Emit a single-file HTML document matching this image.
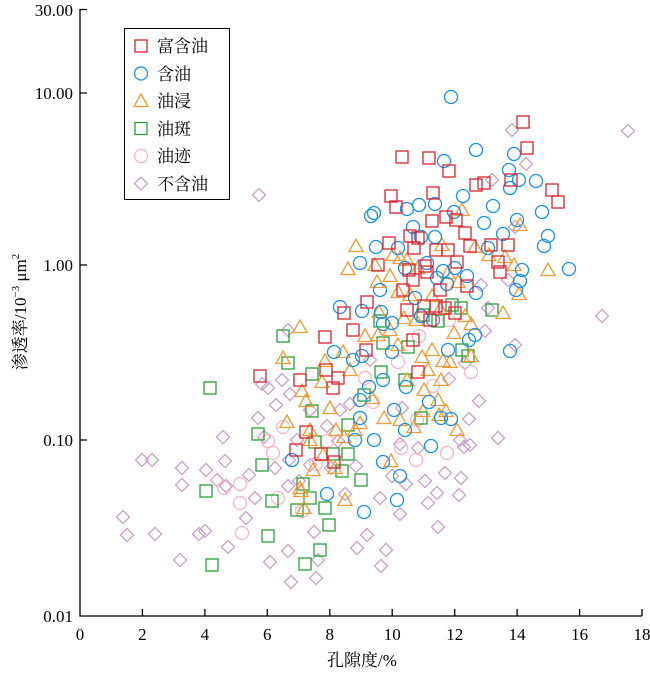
<!DOCTYPE html>
<html><head><meta charset="utf-8">
<style>
html,body{margin:0;padding:0;background:#fff;}
svg{display:block;font-family:"Liberation Serif","Noto Serif CJK SC",serif;}
</style></head>
<body>
<svg id="s" width="650" height="673" viewBox="0 0 650 673" xmlns="http://www.w3.org/2000/svg">
<defs>
<rect id="sq" x="-6" y="-6" width="12" height="12" fill="none" stroke-width="1.3"/>
<circle id="ci" r="6.5" fill="none" stroke-width="1.3"/>
<path id="tr" d="M0,-7 L7,5.5 L-7,5.5 Z" fill="none" stroke-width="1.3"/>
<path id="di" d="M0,-6.5 L6.5,0 L0,6.5 L-6.5,0 Z" fill="none" stroke-width="1.3"/>
</defs>
<g id="pts"></g>
<g stroke="#000" stroke-width="1.3" fill="none">
<path d="M80,9 V616 H642"/>
<path d="M80,9.5h7 M80,93h7 M80,265h7 M80,440h7"/>
<path d="M142.4,616v-7 M204.9,616v-7 M267.3,616v-7 M329.8,616v-7 M392.2,616v-7 M454.7,616v-7 M517.1,616v-7 M579.6,616v-7 M642,616v-7"/>
</g>
<g font-size="17" text-anchor="end" fill="#000">
<text x="73" y="16">30.00</text>
<text x="73" y="99">10.00</text>
<text x="73" y="271">1.00</text>
<text x="73" y="446">0.10</text>
<text x="73" y="622">0.01</text>
</g>
<g font-size="17" text-anchor="middle" fill="#000">
<text x="80" y="640">0</text><text x="142.4" y="640">2</text><text x="204.9" y="640">4</text>
<text x="267.3" y="640">6</text><text x="329.8" y="640">8</text><text x="392.2" y="640">10</text>
<text x="454.7" y="640">12</text><text x="517.1" y="640">14</text><text x="579.6" y="640">16</text>
<text x="642" y="640">18</text>
<text x="362" y="666">孔隙度/%</text>
<text transform="translate(26,312) rotate(-90)">渗透率/10<tspan font-size="11" dy="-7">−3</tspan><tspan dy="7"> μm</tspan><tspan font-size="11" dy="-7">2</tspan></text>
</g>
<rect x="124.5" y="28.5" width="105" height="171" fill="#fff" stroke="#000" stroke-width="1"/>
<g id="leg" font-size="17" fill="#000">
<text x="157" y="52">富含油</text>
<text x="157" y="80">含油</text>
<text x="157" y="107">油浸</text>
<text x="157" y="135">油斑</text>
<text x="157" y="162">油迹</text>
<text x="157" y="190">不含油</text>
</g>
</svg>
<script>
var C={r:"#d9232e",b:"#1a8fe3",o:"#f39a34",g:"#2a9d3a",p:"#f4b6c8",d:"#c9a0cc"};
var S={
d:[[259,195],[512,130],[526,164],[628,131],[602,316],[498,438],[515,345],[152,460],[123,517],[182,468],[182,485],[155,534],[127,535],[180,560],[199,534],[206,470],[225,461],[226,486],[228,547],[246,518],[255,498],[249,475],[262,384],[268,388],[258,418],[276,405],[264,437],[275,468],[270,562],[289,460],[297,440],[288,486],[299,481],[288,551],[291,582],[316,578],[314,532],[318,560],[331,468],[356,466],[357,548],[345,494],[367,535],[381,566],[386,550],[380,498],[392,476],[400,514],[406,484],[400,444],[418,448],[425,481],[437,493],[428,503],[438,527],[445,473],[461,478],[464,447],[460,440],[469,419],[459,495],[470,445],[488,308],[481,285],[508,280],[485,331],[479,401],[465,363],[449,379],[402,408],[370,360],[350,404],[327,426],[338,441],[340,410],[310,410],[290,394],[282,380],[288,330],[310,465],[223,437],[217,480],[205,531],[142,460],[492,180],[515,227]],
p:[[283,427],[268,441],[273,453],[224,488],[240,484],[240,503],[242,533],[278,498],[316,464],[302,511],[327,441],[365,378],[401,448],[417,420],[419,336],[398,362],[373,402],[433,386],[449,320],[471,372],[416,460],[447,453]],
g:[[210,388],[206,491],[212,565],[268,536],[305,564],[262,465],[258,434],[283,336],[288,363],[312,374],[312,411],[315,442],[329,525],[325,508],[333,454],[342,471],[361,480],[348,454],[364,395],[380,321],[383,343],[381,372],[408,347],[405,380],[423,315],[438,321],[452,305],[461,308],[468,356],[492,310],[462,350],[421,418],[310,498],[303,484],[272,501],[297,510],[320,550],[348,425]],
o:[[356,246],[348,269],[375,265],[393,255],[400,258],[407,260],[442,245],[462,210],[475,247],[489,255],[505,257],[520,225],[514,265],[519,294],[548,270],[458,282],[448,273],[418,268],[390,276],[398,292],[432,296],[410,295],[377,282],[379,312],[390,330],[404,318],[416,320],[440,309],[465,316],[471,324],[454,333],[432,350],[428,370],[441,380],[450,362],[378,335],[365,336],[398,345],[325,361],[343,352],[350,370],[300,327],[283,358],[302,391],[322,382],[306,401],[330,408],[336,430],[344,437],[355,430],[310,430],[287,422],[323,455],[313,470],[300,488],[304,508],[335,468],[360,423],[384,418],[372,398],[400,420],[391,461],[407,380],[422,357],[424,390],[438,400],[446,411],[457,430],[443,361],[423,411],[310,440],[471,356],[503,313],[439,415],[414,427],[345,500],[301,491]],
b:[[451,97],[444,161],[476,150],[514,154],[509,170],[519,180],[536,181],[510,188],[493,206],[463,196],[435,204],[371,216],[374,213],[407,209],[419,205],[454,212],[484,223],[503,234],[542,212],[548,236],[544,246],[517,220],[488,248],[435,237],[421,237],[413,227],[398,248],[376,247],[360,263],[405,268],[427,263],[443,271],[447,284],[437,278],[415,298],[380,290],[340,307],[362,311],[467,276],[455,268],[476,293],[522,270],[520,281],[569,269],[516,290],[421,316],[433,320],[469,340],[475,335],[448,350],[392,352],[362,356],[334,352],[381,312],[383,324],[353,360],[383,380],[369,387],[394,410],[406,387],[360,400],[429,402],[441,418],[360,418],[431,446],[451,419],[374,440],[355,440],[383,462],[400,476],[397,500],[364,512],[292,460],[327,494],[510,351],[392,323],[405,430]],
r:[[523,122],[527,148],[402,157],[429,158],[449,171],[476,185],[484,183],[511,180],[552,190],[558,202],[391,196],[396,207],[433,193],[446,217],[432,221],[410,236],[418,238],[456,220],[465,233],[491,245],[470,246],[508,245],[389,243],[414,248],[436,250],[448,250],[425,266],[378,265],[409,270],[413,280],[427,272],[457,262],[467,286],[500,272],[498,262],[440,290],[436,306],[445,308],[430,320],[403,290],[407,310],[367,302],[344,313],[325,337],[353,330],[413,340],[424,306],[418,372],[366,350],[326,370],[300,380],[260,376],[306,432],[338,378],[334,462],[321,454],[333,388],[296,450],[455,313]]
};
var M={r:"sq",b:"ci",o:"tr",g:"sq",p:"ci",d:"di"};
var NS="http://www.w3.org/2000/svg",XL="http://www.w3.org/1999/xlink";
var G=document.getElementById("pts"),svg=document.getElementById("s");
function put(par,k,x,y){var u=document.createElementNS(NS,"use");u.setAttribute("href","#"+M[k]);u.setAttributeNS(XL,"xlink:href","#"+M[k]);u.setAttribute("x",x);u.setAttribute("y",y);u.setAttribute("stroke",C[k]);par.appendChild(u);}
["d","p","g","o","b","r"].forEach(function(k){S[k].forEach(function(p){put(G,k,p[0],p[1]);});});
var L=document.createElementNS(NS,"g");svg.appendChild(L);
["r","b","o","g","p","d"].forEach(function(k,i){put(L,k,141,46+i*27.5);});
</script>
</body></html>
